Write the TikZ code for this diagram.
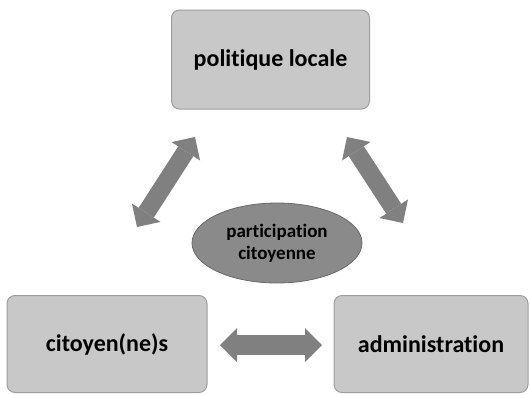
\documentclass[tikz,border=0pt]{standalone}
\usepackage{fontspec}
\setmainfont{Carlito}[RawFeature={-liga;-dlig;-clig}]
\usetikzlibrary{arrows.meta,shapes.geometric}
\definecolor{boxfill}{RGB}{200,200,200}
\definecolor{boxline}{RGB}{158,158,158}
\definecolor{ellfill}{RGB}{138,138,138}
\definecolor{ellline}{RGB}{105,105,105}
\definecolor{arrfill}{RGB}{128,128,128}
\tikzset{
  box/.style={draw=boxline, line width=1pt, fill=boxfill, rounded corners=8pt,
    font=\fontsize{24}{28}\selectfont\bfseries, text=black, inner sep=0pt},
  blockarrow/.style={draw=arrfill, line width=18pt,
    {Triangle[line width=0pt,length=17pt,width=34pt]}-{Triangle[line width=0pt,length=17pt,width=34pt]}},
}
\begin{document}
\begin{tikzpicture}[x=1pt,y=-1pt]
\useasboundingbox (0,0) rectangle (529,394);
\node[box, minimum width=198pt, minimum height=99pt] (pol) at (270.5,59.5) {politique locale};
\node[box, minimum width=200pt, minimum height=97pt] (cit) at (107,344) {citoyen(ne)s};
\node[box, minimum width=194pt, minimum height=97pt] (adm) at (431,344) {administration};
\node[ellipse, draw=ellline, line width=0.8pt, fill=ellfill, minimum width=170pt, minimum height=80pt,
  inner sep=0pt, align=center, font=\fontsize{19}{22}\selectfont\bfseries] (par) at (277,243) {participation\\citoyenne};
\coordinate (a1) at (195,137);
\coordinate (a2) at (137,227);
\coordinate (b1) at (347,137);
\coordinate (b2) at (403,223);
\coordinate (c1) at (220,345);
\coordinate (c2) at (322,345);
\draw[blockarrow] (a1) -- (a2);
\draw[blockarrow] (b1) -- (b2);
\draw[blockarrow, line width=20pt] (c1) -- (c2);
\end{tikzpicture}
\end{document}
